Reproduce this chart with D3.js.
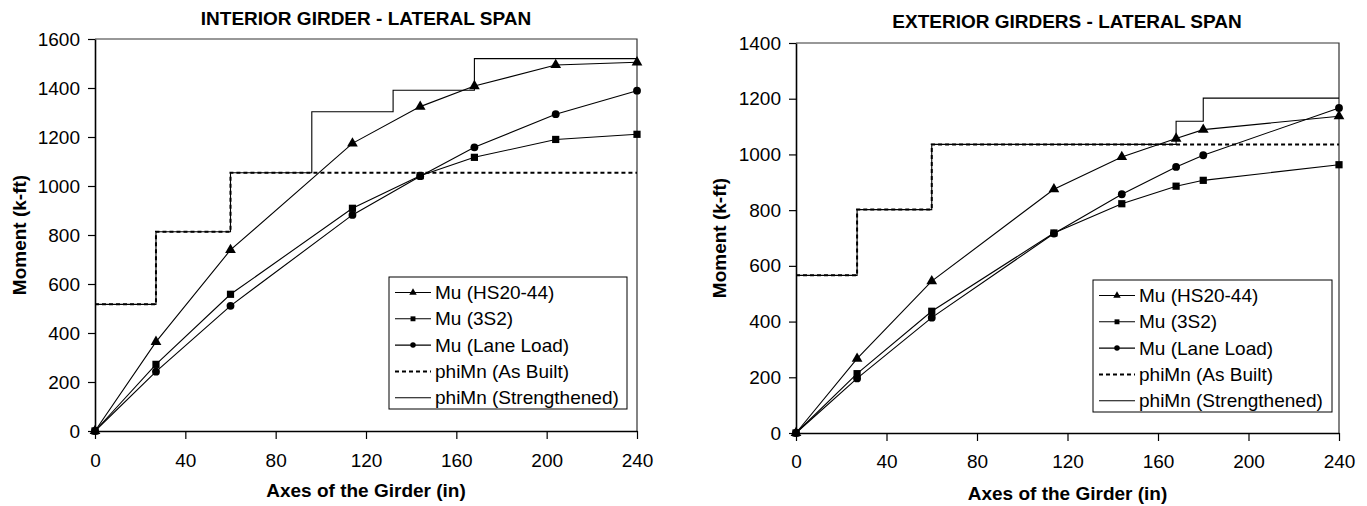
<!DOCTYPE html>
<html><head><meta charset="utf-8">
<script src="https://cdn.jsdelivr.net/npm/d3@7"></script>
<style>
body{margin:0;background:#fff;}
text{font-family:"Liberation Sans",Arial,sans-serif;fill:#000;}
</style></head>
<body><svg id="c" width="1367" height="506"></svg>
<script>
// ---------- DATA ----------
const xTicks = [0, 40, 80, 120, 160, 200, 240];
const yTicksInt = [0, 200, 400, 600, 800, 1000, 1200, 1400, 1600];
const yTicksExt = [0, 200, 400, 600, 800, 1000, 1200, 1400];

// Interior girder
const intX = [0, 27, 60, 114, 144, 168, 204, 240];
const intHS20 = [0, 364, 739, 1174, 1324, 1408, 1494, 1505];
const int3S2 = [0, 272, 558, 909, 1042, 1117, 1190, 1211];
const intLane = [0, 242, 511, 882, 1040, 1158, 1293, 1389];
const intAsBuiltX = [0, 27, 60, 240];
const intAsBuilt = [517, 813, 1054, 1054];
const intStrX = [0, 27, 60, 96, 132, 168, 240];
const intStr = [517, 813, 1054, 1303, 1391, 1520, 1520];

// Exterior girders
const extX = [0, 27, 60, 114, 144, 168, 180, 240];
const extHS20 = [0, 267, 545, 875, 991, 1057, 1089, 1137];
const ext3S2 = [0, 213, 437, 718, 823, 886, 907, 963];
const extLane = [0, 196, 414, 716, 857, 955, 997, 1167];
const extAsBuiltX = [0, 27, 60, 240];
const extAsBuilt = [566, 802, 1036, 1036];
const extStrX = [0, 27, 60, 168, 180, 240];
const extStr = [566, 802, 1036, 1119, 1202, 1202];

const legendLabels = ["Mu (HS20-44)", "Mu (3S2)", "Mu (Lane Load)", "phiMn (As Built)", "phiMn (Strengthened)"];
const titles = ["INTERIOR GIRDER - LATERAL SPAN", "EXTERIOR GIRDERS - LATERAL SPAN"];
const xTitle = "Axes of the Girder (in)";
const yTitle = "Moment (k-ft)";

// ---------- DRAW ----------
const svg = d3.select("#c");
svg.append("rect").attr("width", 1367).attr("height", 506).attr("fill", "#fff");

const zip = (xs, ys) => xs.map((x, i) => [x, ys[i]]);

const symT = d3.symbol().type(d3.symbolTriangle);
const symS = d3.symbol().type(d3.symbolSquare);
const symC = d3.symbol().type(d3.symbolCircle);

function panel(cfg) {
  const x = d3.scaleLinear().domain([0, 240]).range([cfg.x0, cfg.x1]);
  const y = d3.scaleLinear().domain([0, cfg.ymax]).range([cfg.y0, cfg.y1]);
  const g = svg.append("g");

  // frame top/right
  g.append("path").attr("d", `M${cfg.x0},${cfg.y1}H${cfg.x1}V${cfg.y0}`)
    .attr("fill", "none").attr("stroke", "#333").attr("stroke-width", 1.2);

  // axes
  const xa = g.append("g").attr("transform", `translate(0,${cfg.y0})`)
    .call(d3.axisBottom(x).tickValues(xTicks).tickFormat(d3.format("d")).tickSize(8).tickSizeOuter(0).tickPadding(0));
  xa.select(".domain").attr("stroke", "#000").attr("stroke-width", 1.6);
  xa.selectAll(".tick line").attr("stroke", "#000").attr("stroke-width", 1.2);
  xa.selectAll(".tick text").attr("font-size", 19).attr("font-family", "Liberation Sans, Arial")
    .attr("y", cfg.xlabBase - cfg.y0).attr("dy", 0);

  const ya = g.append("g").attr("transform", `translate(${cfg.x0},0)`)
    .call(d3.axisLeft(y).tickValues(cfg.yTicks).tickFormat(d3.format("d")).tickSize(7).tickSizeOuter(0).tickPadding(8));
  ya.select(".domain").attr("stroke", "#000").attr("stroke-width", 1.6);
  ya.selectAll(".tick line").attr("stroke", "#000").attr("stroke-width", 1.2);
  ya.selectAll(".tick text").attr("font-size", 19).attr("font-family", "Liberation Sans, Arial");

  // titles
  svg.append("text").attr("x", cfg.tx).attr("y", cfg.tBase).attr("text-anchor", "middle")
    .attr("font-size", 19).attr("font-weight", "bold").text(cfg.title);
  svg.append("text").attr("x", (cfg.x0 + cfg.x1) / 2).attr("y", cfg.xtBase).attr("text-anchor", "middle")
    .attr("font-size", 19).attr("font-weight", "bold").text(xTitle);
  svg.append("text").attr("transform", `translate(${cfg.ytx},${(cfg.y0 + cfg.y1) / 2}) rotate(-90)`)
    .attr("text-anchor", "middle").attr("dy", "0.35em")
    .attr("font-size", 19).attr("font-weight", "bold").text(yTitle);

  const line = d3.line().x(d => x(d[0])).y(d => y(d[1]));
  const step = d3.line().x(d => x(d[0])).y(d => y(d[1])).curve(d3.curveStepAfter);

  // step lines
  g.append("path").attr("d", step(zip(cfg.abX, cfg.ab))).attr("fill", "none")
    .attr("stroke", "#000").attr("stroke-width", 2).attr("stroke-dasharray", "4,3");
  g.append("path").attr("d", step(zip(cfg.stX, cfg.st))).attr("fill", "none")
    .attr("stroke", "#000").attr("stroke-width", 1.1);

  const series = [[cfg.hs, symT, 50], [cfg.s3, symS, 52], [cfg.ln, symC, 48]];
  series.forEach(([vals, sym, sz]) => {
    const pts = zip(cfg.xs, vals);
    g.append("path").attr("d", line(pts)).attr("fill", "none").attr("stroke", "#000").attr("stroke-width", 1.1);
    g.selectAll(null).data(pts).enter().append("path")
      .attr("transform", d => `translate(${x(d[0])},${y(d[1])})`)
      .attr("d", sym.size(sz)()).attr("fill", "#000");
  });

  // legend
  const lg = svg.append("g");
  lg.append("rect").attr("x", cfg.lx).attr("y", cfg.ly).attr("width", cfg.lw).attr("height", cfg.lh)
    .attr("fill", "#fff").attr("stroke", "#000").attr("stroke-width", 1);
  const syms = [symT, symS, symC, null, null];
  legendLabels.forEach((lab, i) => {
    const cy = cfg.ly + 15.5 + i * 26.3;
    const xA = cfg.lx + 6, xB = cfg.lx + 42;
    lg.append("line").attr("x1", xA).attr("x2", xB).attr("y1", cy).attr("y2", cy)
      .attr("stroke", "#000").attr("stroke-width", i === 3 ? 2 : 1.1)
      .attr("stroke-dasharray", i === 3 ? "4,3" : null);
    if (syms[i]) lg.append("path").attr("transform", `translate(${(xA + xB) / 2},${cy})`)
      .attr("d", syms[i].size(24)()).attr("fill", "#000");
    lg.append("text").attr("x", cfg.lx + 46).attr("y", cy).attr("dy", "0.35em")
      .attr("font-size", 19).text(lab);
  });
}

panel({
  x0: 95, x1: 637, y0: 431, y1: 39, ymax: 1600, yTicks: yTicksInt, xlabBase: 467,
  title: titles[0], tx: 366, tBase: 25, xtBase: 497, ytx: 19,
  xs: intX, hs: intHS20, s3: int3S2, ln: intLane,
  abX: intAsBuiltX, ab: intAsBuilt, stX: intStrX, st: intStr,
  lx: 389, ly: 277, lw: 238, lh: 132
});
panel({
  x0: 796, x1: 1339, y0: 433, y1: 43, ymax: 1400, yTicks: yTicksExt, xlabBase: 468,
  title: titles[1], tx: 1067, tBase: 28, xtBase: 500, ytx: 719,
  xs: extX, hs: extHS20, s3: ext3S2, ln: extLane,
  abX: extAsBuiltX, ab: extAsBuilt, stX: extStrX, st: extStr,
  lx: 1093, ly: 280, lw: 239, lh: 132
});
</script></body></html>
